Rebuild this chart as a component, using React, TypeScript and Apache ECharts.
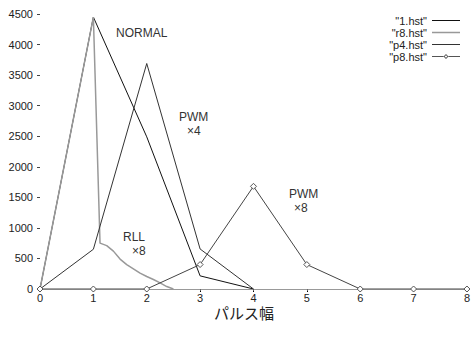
import React, { useEffect, useRef } from "react";
import * as echarts from "echarts";

const seriesNames = ['"1.hst"', '"r8.hst"', '"p4.hst"', '"p8.hst"'];

const normalX = [0, 1, 2, 3, 4];
const normalY = [0, 4450, 2490, 215, 0];

const rllX = [0, 1, 1.125, 1.25, 1.375, 1.5, 1.625, 1.75, 1.875, 2, 2.125, 2.25, 2.375, 2.5];
const rllY = [0, 4450, 750, 710, 620, 490, 400, 330, 260, 205, 155, 100, 40, 0];

const p4X = [0, 1, 2, 3, 4];
const p4Y = [0, 650, 3690, 655, 0];

const p8X = [0, 1, 2, 3, 4, 5, 6, 7, 8];
const p8Y = [0, 0, 0, 400, 1680, 400, 0, 0, 0];

const xTicks = { min: 0, max: 8, interval: 1 };
const yTicks = { min: 0, max: 4500, interval: 500 };

const xAxisTitle = "パルス幅";

const annotations = [
  { text: "NORMAL", x: 116, y: 34 },
  { text: "PWM", x: 179, y: 118 },
  { text: "×4", x: 187, y: 132 },
  { text: "RLL", x: 123, y: 238 },
  { text: "×8", x: 132, y: 252 },
  { text: "PWM", x: 289, y: 195 },
  { text: "×8", x: 294, y: 209 },
];

const zip = (xs: number[], ys: number[]) => xs.map((x, i) => [x, ys[i]]);

// tiny corner specks keep the icon's bounding box at 28x8 so the line is not stretched
const box = "M0,0L0.01,0L0,0.01Z M28,8L27.99,8L28,7.99Z ";
const lineIcon = "path://" + box + "M0,3.5L28,3.5L28,4.5L0,4.5Z";
const thickLineIcon = "path://" + box + "M0,3.2L28,3.2L28,4.8L0,4.8Z";
const diamondIcon =
  "path://" +
  box +
  "M0,3.5L11.5,3.5L11.5,4.5L0,4.5Z M16.5,3.5L28,3.5L28,4.5L16.5,4.5Z " +
  "M14,1.5L16.5,4L14,6.5L11.5,4Z M14,2.7L12.7,4L14,5.3L15.3,4Z";

export default function App() {
  const ref = useRef<HTMLDivElement>(null);
  useEffect(() => {
    if (!ref.current) return;
    const chart = echarts.init(ref.current, undefined, { renderer: "svg" });
    const font = "'Liberation Sans', Arial, sans-serif";
    const lineSeries = (name: string, data: number[][], color: string, width: number) => ({
      name,
      type: "line",
      data,
      symbol: "none",
      showSymbol: false,
      lineStyle: { color, width },
      itemStyle: { color },
      z: 3,
    });
    const iconStyle = (color: string) => ({ color, borderWidth: 0, borderColor: "transparent" });
    chart.setOption({
      animation: false,
      backgroundColor: "#fff",
      textStyle: { fontFamily: font },
      grid: { left: 40, right: 0, top: 14, bottom: 56, containLabel: false },
      legend: {
        orient: "vertical",
        right: 13,
        top: 15,
        padding: 0,
        align: "right",
        itemWidth: 28,
        itemHeight: 8,
        itemGap: 1,
        symbolKeepAspect: false,
        itemStyle: { borderWidth: 0 },
        lineStyle: { width: 0 },
        textStyle: { fontSize: 11, color: "#222", fontFamily: font, lineHeight: 11 },
        data: [
          { name: seriesNames[0], icon: lineIcon, itemStyle: iconStyle("#111") },
          { name: seriesNames[1], icon: thickLineIcon, itemStyle: iconStyle("#999") },
          { name: seriesNames[2], icon: lineIcon, itemStyle: iconStyle("#333") },
          { name: seriesNames[3], icon: diamondIcon, itemStyle: iconStyle("#555") },
        ],
      },
      xAxis: [
        {
          type: "value",
          min: xTicks.min,
          max: xTicks.max,
          interval: xTicks.interval,
          position: "bottom",
          axisLine: { show: true, lineStyle: { color: "#000", width: 1 } },
          axisTick: { show: true, inside: false, length: 3, lineStyle: { color: "#000" } },
          axisLabel: { fontSize: 11, color: "#222", margin: 3, fontFamily: font },
          splitLine: { show: false },
        },
        {
          type: "value",
          min: xTicks.min,
          max: xTicks.max,
          interval: xTicks.interval,
          position: "top",
          axisLine: { show: true, lineStyle: { color: "#999", width: 1 } },
          axisTick: { show: true, inside: true, length: 2, lineStyle: { color: "#666" } },
          axisLabel: { show: false },
          splitLine: { show: false },
        },
      ],
      yAxis: [
        {
          type: "value",
          min: yTicks.min,
          max: yTicks.max,
          interval: yTicks.interval,
          position: "left",
          axisLine: { show: false },
          axisTick: { show: false },
          axisLabel: {
            fontSize: 11,
            color: "#222",
            margin: 7,
            fontFamily: font,
            formatter: (v: number) => String(v),
          },
          splitLine: { show: false },
        },
        {
          type: "value",
          min: yTicks.min,
          max: yTicks.max,
          interval: yTicks.interval,
          position: "right",
          axisLine: { show: false },
          axisTick: { show: true, inside: true, length: 3, lineStyle: { color: "#444" } },
          axisLabel: { show: false },
          splitLine: { show: false },
        },
      ],
      series: [
        lineSeries(seriesNames[0], zip(normalX, normalY), "#111", 1),
        lineSeries(seriesNames[1], zip(rllX, rllY), "#999", 1.5),
        lineSeries(seriesNames[2], zip(p4X, p4Y), "#333", 1),
        {
          name: seriesNames[3],
          type: "line",
          data: zip(p8X, p8Y),
          symbol: "diamond",
          symbolSize: 6,
          showSymbol: true,
          lineStyle: { color: "#444", width: 1 },
          itemStyle: { color: "#fff", borderColor: "#555", borderWidth: 1 },
          z: 4,
        },
      ],
      graphic: [
        ...annotations.map((a) => ({
          type: "text",
          left: a.x,
          top: a.y - 7,
          style: { text: a.text, fill: "#333", font: `12px ${font}` },
          z: 10,
        })),
        {
          type: "text",
          left: 214,
          top: 305,
          style: {
            text: xAxisTitle,
            fill: "#222",
            font: "15px 'Noto Sans CJK JP', sans-serif",
          },
        },
      ],
    });
    return () => chart.dispose();
  }, []);
  return <div ref={ref} style={{ width: 473, height: 345, position: "absolute", left: 0, top: 0 }} />;
}
